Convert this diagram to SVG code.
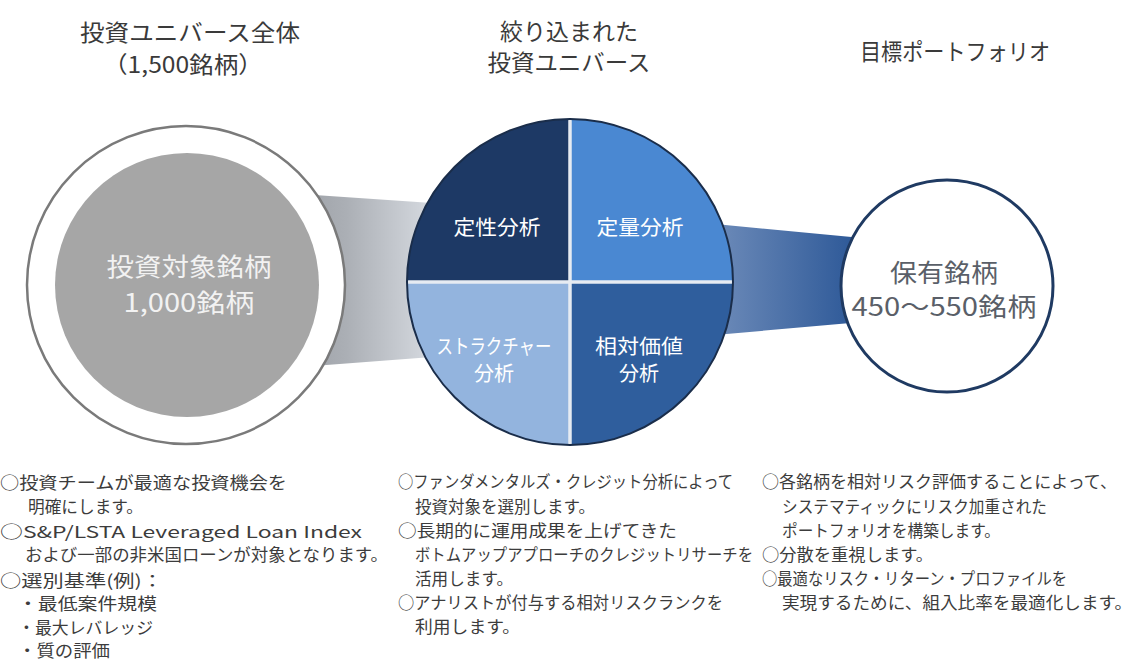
<svg xmlns="http://www.w3.org/2000/svg" width="1134" height="661" viewBox="0 0 1134 661">
<style>
text{font-family:"Noto Sans CJK JP","Noto Sans",sans-serif;}
.title{font-size:23px;fill:#3a3a3a;text-anchor:middle;}
.big{font-size:25px;text-anchor:middle;}
.q{font-size:20px;fill:#ffffff;text-anchor:middle;}
.body{font-size:16.5px;fill:#3c3c3c;}
</style>
<defs>
<linearGradient id="gl" x1="0" y1="0" x2="1" y2="0">
<stop offset="0" stop-color="#9da1a7"/>
<stop offset="0.35" stop-color="#abafb5"/>
<stop offset="1" stop-color="#d6dae0"/>
</linearGradient>
<linearGradient id="gr" x1="0" y1="0" x2="1" y2="0">
<stop offset="0" stop-color="#6d8bb9"/>
<stop offset="1" stop-color="#2a5696"/>
</linearGradient>
</defs>
<rect width="1134" height="661" fill="#ffffff"/>

<g id="titles">
<text class="title" x="190" y="41" textLength="220" lengthAdjust="spacingAndGlyphs">投資ユニバース全体</text>
<text class="title" x="183" y="73" textLength="160" lengthAdjust="spacingAndGlyphs">（1,500銘柄）</text>
<text class="title" x="569" y="40">絞り込まれた</text>
<text class="title" x="569" y="71" textLength="163" lengthAdjust="spacingAndGlyphs">投資ユニバース</text>
<text class="title" x="955" y="60" textLength="190" lengthAdjust="spacingAndGlyphs">目標ポートフォリオ</text>
</g>

<g id="connectors">
<polygon points="300,194 432,203 432,357 300,367" fill="url(#gl)"/>
<polygon points="715,224 862,238 862,322 715,335" fill="url(#gr)"/>
</g>

<g id="node-universe">
<circle cx="186" cy="285" r="159" fill="#ffffff" stroke="#7a7a7a" stroke-width="2.5"/>
<circle cx="187" cy="285" r="132" fill="#a6a6a6"/>
<text class="big" x="189" y="276" fill="#f2f2f2" textLength="165" lengthAdjust="spacingAndGlyphs">投資対象銘柄</text>
<text class="big" x="189" y="312" fill="#f2f2f2" textLength="131" lengthAdjust="spacingAndGlyphs">1,000銘柄</text>
</g>

<g id="node-analysis">
<path d="M570,282 L407,282 A163,163 0 0 1 570,119 Z" fill="#1d3965"/>
<path d="M570,282 L570,119 A163,163 0 0 1 733,282 Z" fill="#4a88d2"/>
<path d="M570,282 L733,282 A163,163 0 0 1 570,445 Z" fill="#2f5e9d"/>
<path d="M570,282 L570,445 A163,163 0 0 1 407,282 Z" fill="#93b4de"/>
<line x1="570" y1="118" x2="570" y2="446" stroke="#e6ebf2" stroke-width="3.5"/>
<line x1="406" y1="282" x2="734" y2="282" stroke="#e6ebf2" stroke-width="3.5"/>
<circle cx="570" cy="282" r="163" fill="none" stroke="#1a2d4a" stroke-width="2"/>
<text class="q" x="497" y="235" textLength="87" lengthAdjust="spacingAndGlyphs">定性分析</text>
<text class="q" x="640" y="235" textLength="87" lengthAdjust="spacingAndGlyphs">定量分析</text>
<text class="q" x="494" y="354" fill="#eef3fa" textLength="115" lengthAdjust="spacingAndGlyphs">ストラクチャー</text>
<text class="q" x="494" y="381" fill="#eef3fa">分析</text>
<text class="q" x="639" y="354" textLength="88" lengthAdjust="spacingAndGlyphs">相対価値</text>
<text class="q" x="639" y="381">分析</text>
</g>

<g id="node-portfolio">
<circle cx="947" cy="286" r="106" fill="#ffffff" stroke="#1f3a62" stroke-width="3"/>
<text class="big" x="944" y="282" fill="#5a5f68" textLength="108" lengthAdjust="spacingAndGlyphs">保有銘柄</text>
<text class="big" x="944" y="316" fill="#5a5f68" textLength="185" lengthAdjust="spacingAndGlyphs">450～550銘柄</text>
</g>

<g id="text-left">
<text class="body" x="0" y="489" textLength="287" lengthAdjust="spacingAndGlyphs">○投資チームが最適な投資機会を</text>
<text class="body" x="28" y="513" textLength="115" lengthAdjust="spacingAndGlyphs">明確にします。</text>
<text class="body" x="0" y="538" textLength="362" lengthAdjust="spacingAndGlyphs">○S&amp;P/LSTA Leveraged Loan Index</text>
<text class="body" x="25" y="561" textLength="363" lengthAdjust="spacingAndGlyphs">および一部の非米国ローンが対象となります。</text>
<text class="body" x="0" y="587" textLength="163" lengthAdjust="spacingAndGlyphs">○選別基準(例)：</text>
<text class="body" x="18" y="610" textLength="139" lengthAdjust="spacingAndGlyphs">・最低案件規模</text>
<text class="body" x="18" y="634" textLength="135" lengthAdjust="spacingAndGlyphs">・最大レバレッジ</text>
<text class="body" x="18" y="657" textLength="92" lengthAdjust="spacingAndGlyphs">・質の評価</text>
</g>

<g id="text-middle">
<text class="body" x="398" y="488" textLength="335" lengthAdjust="spacingAndGlyphs">○ファンダメンタルズ・クレジット分析によって</text>
<text class="body" x="415" y="513" textLength="180" lengthAdjust="spacingAndGlyphs">投資対象を選別します。</text>
<text class="body" x="398" y="537" textLength="279" lengthAdjust="spacingAndGlyphs">○長期的に運用成果を上げてきた</text>
<text class="body" x="415" y="561" textLength="338" lengthAdjust="spacingAndGlyphs">ボトムアップアプローチのクレジットリサーチを</text>
<text class="body" x="415" y="585" textLength="98" lengthAdjust="spacingAndGlyphs">活用します。</text>
<text class="body" x="398" y="609" textLength="325" lengthAdjust="spacingAndGlyphs">○アナリストが付与する相対リスクランクを</text>
<text class="body" x="415" y="633" textLength="105" lengthAdjust="spacingAndGlyphs">利用します。</text>
</g>

<g id="text-right">
<text class="body" x="762" y="488" textLength="355" lengthAdjust="spacingAndGlyphs">○各銘柄を相対リスク評価することによって、</text>
<text class="body" x="782" y="513" textLength="265" lengthAdjust="spacingAndGlyphs">システマティックにリスク加重された</text>
<text class="body" x="782" y="537" textLength="218" lengthAdjust="spacingAndGlyphs">ポートフォリオを構築します。</text>
<text class="body" x="762" y="561" textLength="171" lengthAdjust="spacingAndGlyphs">○分散を重視します。</text>
<text class="body" x="762" y="585" textLength="305" lengthAdjust="spacingAndGlyphs">○最適なリスク・リターン・プロファイルを</text>
<text class="body" x="782" y="609" textLength="350" lengthAdjust="spacingAndGlyphs">実現するために、組入比率を最適化します。</text>
</g>
</svg>
